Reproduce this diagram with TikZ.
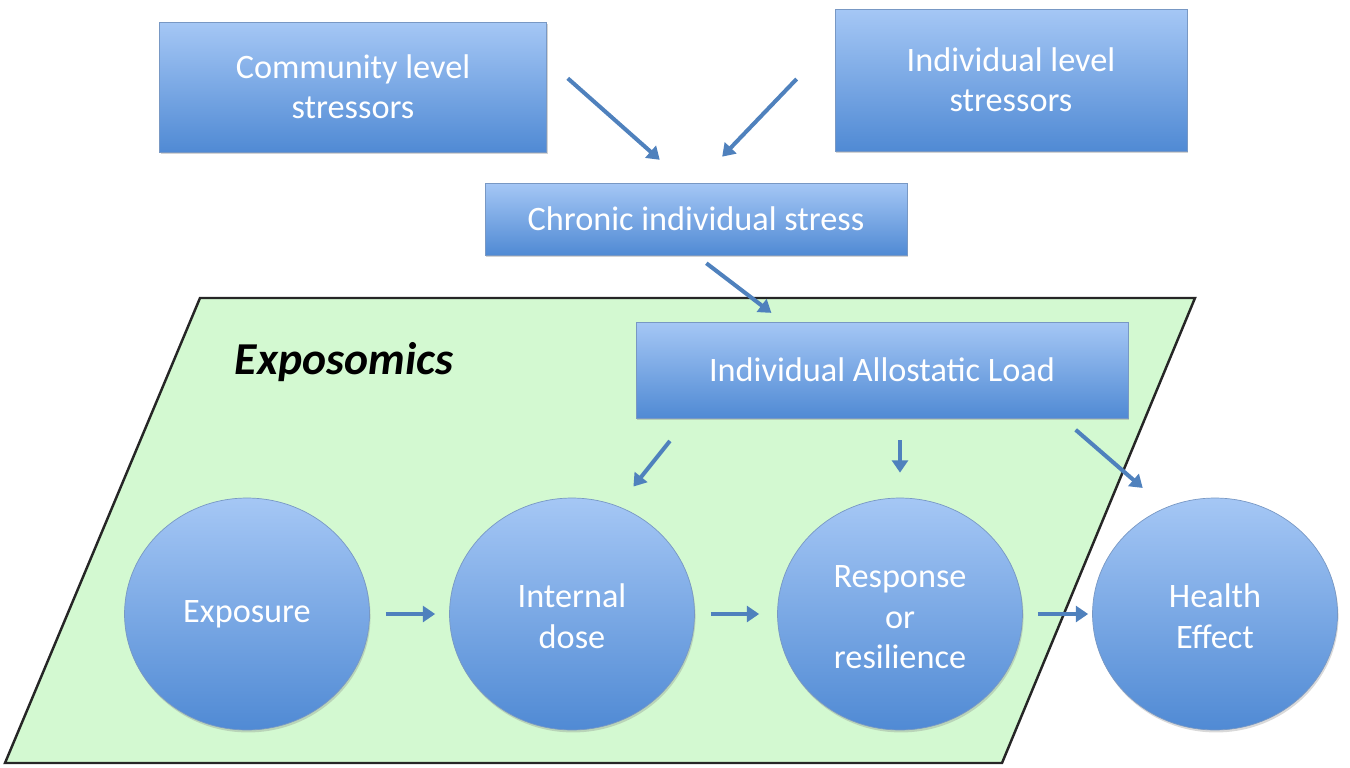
\documentclass[tikz,border=0pt]{standalone}
\usepackage{fontspec}
\setmainfont{Carlito}
\usetikzlibrary{positioning, shapes.geometric, shadows, arrows.meta}

\definecolor{boxtop}{RGB}{165,199,245}
\definecolor{boxbottom}{RGB}{80,138,212}
\definecolor{boxline}{RGB}{120,152,196}
\definecolor{flowblue}{RGB}{79,129,189}
\definecolor{zonegreen}{RGB}{211,249,209}

\begin{document}
\begin{tikzpicture}[
    x=0.02cm, y=-0.02cm,
    every node/.style={font=\fontsize{19.5}{23}\selectfont, text=white, align=center, inner sep=0pt},
    stage/.style={rectangle, draw=boxline, top color=boxtop, bottom color=boxbottom,
        drop shadow={shadow xshift=0.8pt, shadow yshift=-1.4pt, opacity=0.35}},
    outcome/.style={ellipse, draw=boxline, top color=boxtop, bottom color=boxbottom,
        minimum width=4.9cm, minimum height=4.64cm,
        drop shadow={shadow xshift=0.6pt, shadow yshift=-1.4pt, opacity=0.3}},
    zone/.style={fill=zonegreen, draw=black!85, line width=1.4pt},
    every edge/.append style={draw=flowblue, line width=2.3pt, >={Triangle[length=7pt,width=9pt]}}
]
   \useasboundingbox (0,0) rectangle (1350,768);

   % Exposomics area
   \draw[zone] (200,298) -- (1195,298) -- (1002,763) -- (5,763) -- cycle;
   \node[text=black, font=\fontsize{26}{30}\selectfont\bfseries\itshape] (zonelabel) at (344,362) {Exposomics};

   % Stressors and load
   \node[stage, minimum width=7.74cm, minimum height=2.6cm] (comm) at (353,87) {Community level\\stressors};
   \node[stage, minimum width=7.04cm, minimum height=2.84cm] (indiv) at (1011,80) {Individual level\\stressors};
   \node[stage, minimum width=8.44cm, minimum height=1.44cm] (chronic) at (696,219) {Chronic individual stress};
   \node[stage, minimum width=9.84cm, minimum height=1.92cm] (allo) at (882,370) {Individual Allostatic Load};

   % Pathway
   \node[outcome] (expo) at (247,614) {\strut Exposure};
   \node[outcome] (dose) at (572,614) {\strut Internal\\dose};
   \node[outcome] (resp) at (900,614) {\strut Response\\or\\resilience};
   \node[outcome] (health) at (1215,614) {\strut Health\\Effect};

   % Arrows
   \path[->]
   (comm.8) edge [shorten <=0.56cm, shorten >=0.69cm] (chronic.106)
   (indiv.167) edge [shorten <=1.1cm, shorten >=0.72cm] (chronic.88)
   (chronic.south) edge [shorten <=0.26cm, shorten >=0.29cm] (allo.154)
   (allo.194) edge [shorten <=0.58cm, shorten >=0.5cm] (dose.67)
   (allo.south -| resp.north) edge [shorten <=0.44cm, shorten >=0.5cm] (resp.north)
   (allo.345) edge [shorten <=0.35cm, shorten >=0.6cm] (health.115)
   (expo.east) edge [shorten <=0.32cm, shorten >=0.28cm] (dose.west)
   (dose.east) edge [shorten <=0.32cm, shorten >=0.36cm] (resp.west)
   (resp.east) edge [shorten <=0.3cm, shorten >=0.08cm] (health.west);

\end{tikzpicture}
\end{document}
